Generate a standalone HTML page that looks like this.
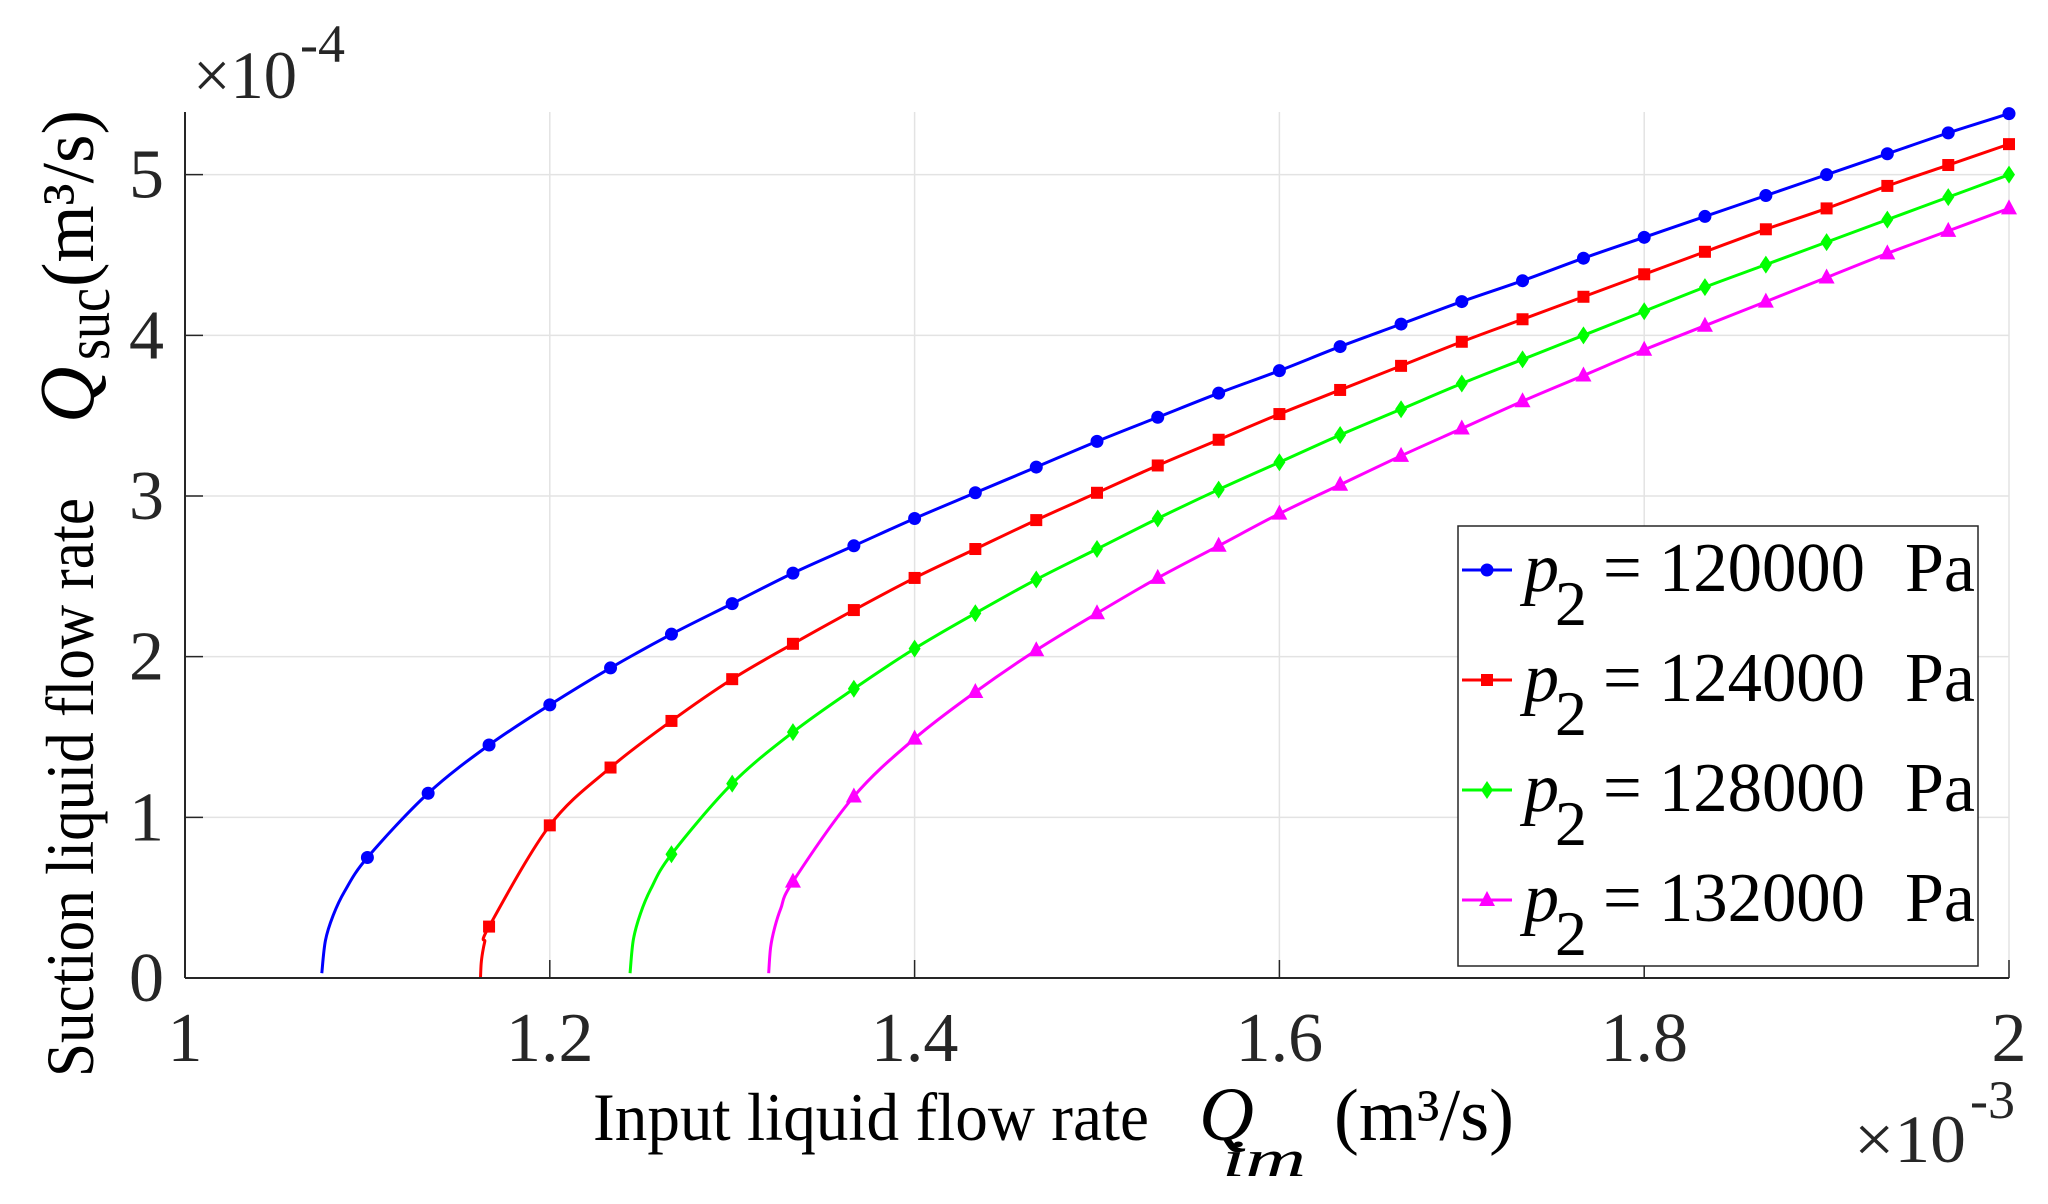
<!DOCTYPE html>
<html><head><meta charset="utf-8"><style>
html,body{margin:0;padding:0;background:#fff;}
svg{display:block;}
text{font-family:"Liberation Serif",serif;}
</style></head><body>
<svg id="chart" width="2048" height="1204" viewBox="0 0 2048 1204" xmlns="http://www.w3.org/2000/svg" font-family="Liberation Serif, serif">
<g id="grid"></g>
<g id="series"></g>
<g id="axes"></g>
<g id="legend"></g>
</svg>
<script>
const xTicks = [1, 1.2, 1.4, 1.6, 1.8, 2];
const xTickLabels = ["1", "1.2", "1.4", "1.6", "1.8", "2"];
const yTicks = [0, 1, 2, 3, 4, 5];
const yTickLabels = ["0", "1", "2", "3", "4", "5"];
const seriesNames = ["p2 = 120000 Pa", "p2 = 124000 Pa", "p2 = 128000 Pa", "p2 = 132000 Pa"];
const seriesLabels = ["120000", "124000", "128000", "132000"];
const seriesColors = ["#0000ff", "#ff0000", "#00ff00", "#ff00ff"];
const seriesMarkers = ["circle", "square", "diamond", "triangle"];
const startX = [1.075, 1.162, 1.244, 1.32];
const startY = [0.03, 0.0, 0.03, 0.03];
const blueX = [1.1,1.1333,1.1667,1.2,1.2333,1.2667,1.3,1.3333,1.3667,1.4,1.4333,1.4667,1.5,1.5333,1.5667,1.6,1.6333,1.6667,1.7,1.7333,1.7667,1.8,1.8333,1.8667,1.9,1.9333,1.9667,2.0];
const blueY = [0.75,1.15,1.45,1.70,1.93,2.14,2.33,2.52,2.69,2.86,3.02,3.18,3.34,3.49,3.64,3.78,3.93,4.07,4.21,4.34,4.48,4.61,4.74,4.87,5.00,5.13,5.26,5.38];
const redX = [1.1667,1.2,1.2333,1.2667,1.3,1.3333,1.3667,1.4,1.4333,1.4667,1.5,1.5333,1.5667,1.6,1.6333,1.6667,1.7,1.7333,1.7667,1.8,1.8333,1.8667,1.9,1.9333,1.9667,2.0];
const redY = [0.32,0.95,1.31,1.60,1.86,2.08,2.29,2.49,2.67,2.85,3.02,3.19,3.35,3.51,3.66,3.81,3.96,4.10,4.24,4.38,4.52,4.66,4.79,4.93,5.06,5.19];
const greenX = [1.2667,1.3,1.3333,1.3667,1.4,1.4333,1.4667,1.5,1.5333,1.5667,1.6,1.6333,1.6667,1.7,1.7333,1.7667,1.8,1.8333,1.8667,1.9,1.9333,1.9667,2.0];
const greenY = [0.77,1.21,1.53,1.80,2.05,2.27,2.48,2.67,2.86,3.04,3.21,3.38,3.54,3.70,3.85,4.00,4.15,4.30,4.44,4.58,4.72,4.86,5.00];
const magentaX = [1.3333,1.3667,1.4,1.4333,1.4667,1.5,1.5333,1.5667,1.6,1.6333,1.6667,1.7,1.7333,1.7667,1.8,1.8333,1.8667,1.9,1.9333,1.9667,2.0];
const magentaY = [0.60,1.13,1.49,1.78,2.04,2.27,2.49,2.69,2.89,3.07,3.25,3.42,3.59,3.75,3.91,4.06,4.21,4.36,4.51,4.65,4.79];
const allX = [blueX, redX, greenX, magentaX];
const allY = [blueY, redY, greenY, magentaY];

const NS = "http://www.w3.org/2000/svg";
const FF = '"Liberation Serif", serif';
const L = 185, R = 2009, B = 978, T = 112;
const xMin = 1, xMax = 2, yMin = 0, yMax = 5.39;
function sx(v){ return L + (v - xMin) / (xMax - xMin) * (R - L); }
function sy(v){ return B - (v - yMin) / (yMax - yMin) * (B - T); }
function mk(tag, attrs, parent){ const e = document.createElementNS(NS, tag); for (const k in attrs) e.setAttribute(k, attrs[k]); parent.appendChild(e); return e; }

const grid = document.getElementById('grid');
const axes = document.getElementById('axes');
const seriesG = document.getElementById('series');
const legend = document.getElementById('legend');

xTicks.forEach((t, i) => {
  const g = mk('line', {x1: sx(t), x2: sx(t), y1: T, y2: B, stroke: '#e3e3e3', 'stroke-width': 1.5}, grid);
  
  
  const tk = mk('line', {x1: sx(t), x2: sx(t), y1: B, y2: B - 18, stroke: '#262626', 'stroke-width': 1.5}, axes);
  
  
  const tx = mk('text', {x: sx(t), y: 1061, 'font-size': 70, 'font-family': FF, 'text-anchor': 'middle', fill: '#262626'}, axes);
  tx.textContent = xTickLabels[i];
  
  
});
yTicks.forEach((t, i) => {
  const g = mk('line', {x1: L, x2: R, y1: sy(t), y2: sy(t), stroke: '#e3e3e3', 'stroke-width': 1.5}, grid);
  
  
  const tk = mk('line', {x1: L, x2: L + 18, y1: sy(t), y2: sy(t), stroke: '#262626', 'stroke-width': 1.5}, axes);
  
  
  const tx = mk('text', {x: 164, y: sy(t) + 23, 'font-size': 70, 'font-family': FF, 'text-anchor': 'end', fill: '#262626'}, axes);
  tx.textContent = yTickLabels[i];
  
  
});
const xa = mk('line', {x1: L, x2: R, y1: B, y2: B, stroke: '#262626', 'stroke-width': 2}, axes);


const ya = mk('line', {x1: L, x2: L, y1: T, y2: B, stroke: '#262626', 'stroke-width': 2}, axes);



function catmull(pts){
  let d = 'M' + pts[0][0] + ',' + pts[0][1];
  for (let i = 0; i < pts.length - 1; i++){
    const p0 = pts[Math.max(0, i - 1)], p1 = pts[i], p2 = pts[i + 1], p3 = pts[Math.min(pts.length - 1, i + 2)];
    const c1x = p1[0] + (p2[0] - p0[0]) / 6, c1y = p1[1] + (p2[1] - p0[1]) / 6;
    const c2x = p2[0] - (p3[0] - p1[0]) / 6, c2y = p2[1] - (p3[1] - p1[1]) / 6;
    d += ' C' + c1x + ',' + c1y + ' ' + c2x + ',' + c2y + ' ' + p2[0] + ',' + p2[1];
  }
  return d;
}
function marker(type, x, y, color, parent){
  let e;
  if (type === 'circle') e = mk('circle', {cx: x, cy: y, r: 6.5, fill: color}, parent);
  else if (type === 'square') e = mk('rect', {x: x - 6, y: y - 6, width: 12, height: 12, fill: color}, parent);
  else if (type === 'diamond') e = mk('polygon', {points: `${x},${y-9} ${x+6},${y} ${x},${y+9} ${x-6},${y}`, fill: color}, parent);
  else e = mk('polygon', {points: `${x},${y-9} ${x+8},${y+6} ${x-8},${y+6}`, fill: color}, parent);
  return e;
}

allX.forEach((xs, s) => {
  const g = mk('g', {}, seriesG);
  
  
  const x0 = startX[s], y0 = startY[s], x1 = xs[0], y1 = allY[s][0];
  const pts = [[sx(x0), sy(y0)]];
  [0.08, 0.25, 0.5].forEach(f => {
    const xv = x0 + (x1 - x0) * f;
    const yv = y0 + (y1 - y0) * Math.sqrt(f);
    pts.push([sx(xv), sy(yv)]);
  });
  xs.forEach((xv, i) => pts.push([sx(xv), sy(allY[s][i])]));
  const p = mk('path', {d: catmull(pts), fill: 'none', stroke: seriesColors[s], 'stroke-width': 3}, g);
  
  
  xs.forEach((xv, i) => {
    const m = marker(seriesMarkers[s], sx(xv), sy(allY[s][i]), seriesColors[s], g);
    
    
  });
});

const box = mk('rect', {x: 1458, y: 526, width: 520, height: 440, fill: '#fff', stroke: '#262626', 'stroke-width': 1.5}, legend);


const rowY = [570, 680, 790, 900];
seriesLabels.forEach((lab, s) => {
  const g = mk('g', {}, legend);
  
  
  const y = rowY[s];
  mk('line', {x1: 1462, x2: 1512, y1: y, y2: y, stroke: seriesColors[s], 'stroke-width': 3}, g);
  marker(seriesMarkers[s], 1487, y, seriesColors[s], g);
  const p = mk('text', {x: 1524, y: y + 21, 'font-size': 70, 'font-family': FF, 'font-style': 'italic', fill: '#000'}, g);
  p.textContent = 'p';
  const sub = mk('text', {x: 1555, y: y + 55, 'font-size': 64, 'font-family': FF, fill: '#000'}, g);
  sub.textContent = '2';
  const eq = mk('text', {x: 1603, y: y + 21, 'font-size': 70, 'font-family': FF, fill: '#000', textLength: 262, lengthAdjust: 'spacingAndGlyphs'}, g);
  eq.textContent = '= ' + lab;
  const pa = mk('text', {x: 1905, y: y + 21, 'font-size': 70, 'font-family': FF, fill: '#000'}, g);
  pa.textContent = 'Pa';
});
</script>
<svg style="position:absolute;left:0;top:0" width="2048" height="1204">
  <g style="font-family:'Liberation Serif',serif" fill="#000">
    <text x="593" y="1140" font-size="68" textLength="556" lengthAdjust="spacingAndGlyphs">Input liquid flow rate</text>
    <text x="1199" y="1140" font-size="76" font-style="italic">Q</text>
    <text x="1222" y="1176" font-size="52" font-style="italic" textLength="84" lengthAdjust="spacingAndGlyphs">im</text>
    <text x="1334" y="1140" font-size="74" textLength="180" lengthAdjust="spacingAndGlyphs">(m³/s)</text>
  </g>
  <g style="font-family:'Liberation Serif',serif" fill="#262626">
    <text x="1854" y="1162" font-size="68" textLength="112" lengthAdjust="spacingAndGlyphs">×10</text>
    <text x="1970" y="1118" font-size="54">-3</text>
  </g>
  <g style="font-family:'Liberation Serif',serif" fill="#262626">
    <text x="193" y="98" font-size="68" textLength="104" lengthAdjust="spacingAndGlyphs">×10</text>
    <text x="300" y="62" font-size="54">-4</text>
  </g>
  <g style="font-family:'Liberation Serif',serif" fill="#000" transform="translate(93,1077) rotate(-90)">
    <text x="0" y="0" font-size="68" textLength="579" lengthAdjust="spacingAndGlyphs">Suction liquid flow rate</text>
    <text x="654" y="0" font-size="78" font-style="italic">Q</text>
    <text x="717" y="16" font-size="64" textLength="72" lengthAdjust="spacingAndGlyphs">suc</text>
    <text x="790" y="0" font-size="74" textLength="177" lengthAdjust="spacingAndGlyphs">(m³/s)</text>
  </g>
</svg>
</body></html>
